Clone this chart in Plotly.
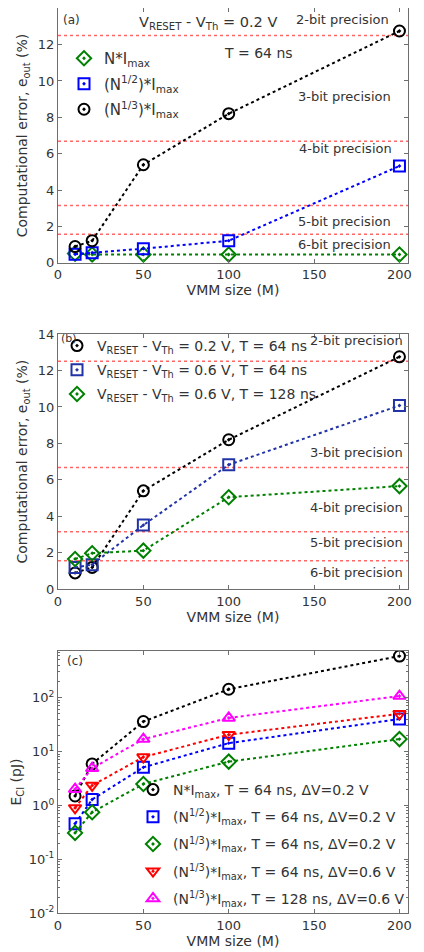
import plotly.graph_objects as go

# ---------------- data ----------------
vmm = [10, 20, 50, 100, 200]

# panel (a): V_RESET - V_Th = 0.2 V, T = 64 ns
a_n = [0.5, 0.45, 0.45, 0.45, 0.45]
a_sqrt = [0.46, 0.55, 0.77, 1.21, 5.32]
a_cbrt = [0.89, 1.21, 5.39, 8.2, 12.75]

# panel (b)
b_02_64 = [0.9, 1.2, 5.4, 8.2, 12.75]
b_06_64 = [1.2, 1.35, 3.52, 6.83, 10.08]
b_06_128 = [1.66, 1.98, 2.12, 5.05, 5.66]

# panel (c): energy (pJ)
c_n = [1.5, 5.9, 36, 143, 590]
c_sqrt = [0.46, 1.29, 5.1, 14.3, 40]
c_cbrt_02 = [0.31, 0.75, 2.5, 6.5, 17]
c_cbrt_06_64 = [0.9, 2.35, 7.9, 20.5, 50]
c_cbrt_06_128 = [2.0, 4.9, 17, 42, 107]

precision_levels = [12.5, 6.68, 3.15, 1.56]

# ---------------- style ----------------
FONT = "DejaVu Sans"
TXT = "#333333"
AX = "#6e6e6e"
GREEN = "#008000"
BLUE = "#0000ff"
NAVY = "#2233a8"
BLACK = "#000000"
RED = "#ff0000"
MAGENTA = "#ff00ff"

fig = go.Figure()
_grp = [0]


def add_series(x, y, color, symbol, name, xa, ya, legend):
    fig.add_trace(go.Scatter(
        x=x, y=y, mode="lines+markers", xaxis=xa, yaxis=ya,
        line=dict(color=color, width=2, dash="dot"),
        marker=dict(symbol=symbol, size=11, color=color,
                    line=dict(color=color, width=2)),
        showlegend=False, hoverinfo="x+y"))
    _grp[0] += 1
    # legend entry (marker only)
    fig.add_trace(go.Scatter(
        x=[None], y=[None], mode="markers", xaxis=xa, yaxis=ya,
        marker=dict(symbol=symbol, size=11, color=color,
                    line=dict(color=color, width=2)),
        name=name, legend=legend, legendgroup=f"g{_grp[0]}", showlegend=True))


# panel a
add_series(vmm, a_n, GREEN, "diamond-open-dot", "N*I<sub>max</sub>", "x", "y", "legend")
add_series(vmm, a_sqrt, BLUE, "square-open-dot", "(N<sup>1/2</sup>)*I<sub>max</sub>", "x", "y", "legend")
add_series(vmm, a_cbrt, BLACK, "circle-open-dot", "(N<sup>1/3</sup>)*I<sub>max</sub>", "x", "y", "legend")

# panel b
add_series(vmm, b_02_64, BLACK, "circle-open-dot",
           "V<sub>RESET</sub> - V<sub>Th</sub> = 0.2 V, T = 64 ns", "x2", "y2", "legend2")
add_series(vmm, b_06_64, NAVY, "square-open-dot",
           "V<sub>RESET</sub> - V<sub>Th</sub> = 0.6 V, T = 64 ns", "x2", "y2", "legend2")
add_series(vmm, b_06_128, GREEN, "diamond-open-dot",
           "V<sub>RESET</sub> - V<sub>Th</sub> = 0.6 V, T = 128 ns", "x2", "y2", "legend2")

# panel c
add_series(vmm, c_n, BLACK, "circle-open-dot",
           "N*I<sub>max</sub>, T = 64 ns, ΔV=0.2 V", "x3", "y3", "legend3")
add_series(vmm, c_sqrt, BLUE, "square-open-dot",
           "(N<sup>1/2</sup>)*I<sub>max</sub>, T = 64 ns, ΔV=0.2 V", "x3", "y3", "legend3")
add_series(vmm, c_cbrt_02, GREEN, "diamond-open-dot",
           "(N<sup>1/3</sup>)*I<sub>max</sub>, T = 64 ns, ΔV=0.2 V", "x3", "y3", "legend3")
add_series(vmm, c_cbrt_06_64, RED, "triangle-down-open-dot",
           "(N<sup>1/3</sup>)*I<sub>max</sub>, T = 64 ns, ΔV=0.6 V", "x3", "y3", "legend3")
add_series(vmm, c_cbrt_06_128, MAGENTA, "triangle-up-open-dot",
           "(N<sup>1/3</sup>)*I<sub>max</sub>, T = 128 ns, ΔV=0.6 V", "x3", "y3", "legend3")

# precision lines
for xa, ya in (("x", "y"), ("x2", "y2")):
    for lv in precision_levels:
        fig.add_shape(type="line", xref=f"{xa} domain", yref=ya,
                      x0=0, x1=1, y0=lv, y1=lv, layer="below",
                      line=dict(color="rgba(255,0,0,0.6)", width=1.5, dash="dot"))

# The page body adds an 8px margin, so the figure is 8px smaller and all
# target pixel positions are shifted by 8px.
OFF = 8
W, H = 424 - OFF, 952 - OFF


def px(x):
    return (x - OFF) / W


def py(y):
    return 1 - (y - OFF) / H


XD = [px(58), px(408)]


def ydom(top, bot):
    return [py(bot), py(top)]


axis_common = dict(showline=True, linecolor=AX, linewidth=1, mirror="ticks",
                   ticks="inside", ticklen=4, tickcolor=AX, showgrid=False,
                   zeroline=False, automargin=False,
                   tickfont=dict(size=13, color=TXT, family=FONT))

xcommon = dict(axis_common, range=[0, 205], tickvals=[0, 50, 100, 150, 200],
               title=dict(text="VMM size (M)", font=dict(size=14, color=TXT, family=FONT), standoff=1))

ytitle_font = dict(size=14, color=TXT, family=FONT)
leg_common = dict(xanchor="left", yanchor="top", bgcolor="rgba(0,0,0,0)",
                  itemwidth=30, traceorder="grouped")

fig.update_layout(
    width=W, height=H, margin=dict(l=0, r=0, t=0, b=0, autoexpand=False),
    paper_bgcolor="white", plot_bgcolor="white",
    font=dict(family=FONT, color=TXT, size=13),
    xaxis=dict(xcommon, domain=XD, anchor="y"),
    yaxis=dict(axis_common, domain=ydom(8.3, 262.7), range=[0, 14], dtick=2, anchor="x",
               title=dict(text="Computational error, e<sub>out</sub> (%)",
                          font=ytitle_font, standoff=6)),
    xaxis2=dict(xcommon, domain=XD, anchor="y2"),
    yaxis2=dict(axis_common, domain=ydom(334, 589.3), range=[0, 14], dtick=2, anchor="x2",
                title=dict(text="Computational error, e<sub>out</sub> (%)",
                           font=ytitle_font, standoff=6)),
    xaxis3=dict(xcommon, domain=XD, anchor="y3"),
    yaxis3=dict(axis_common, type="log", domain=ydom(650.7, 913.3), range=[-2, 2.87], anchor="x3",
                tickvals=[0.01, 0.1, 1, 10, 100],
                ticktext=["10<sup>-2</sup>", "10<sup>-1</sup>", "10<sup>0</sup>",
                          "10<sup>1</sup>", "10<sup>2</sup>"],
                minor=dict(ticks="inside", ticklen=2, tickcolor=AX, dtick="D1"),
                title=dict(text="E<sub>CI</sub> (pJ)", font=ytitle_font, standoff=6)),
    legend=dict(leg_common, x=px(64), y=py(42), tracegroupgap=3,
                font=dict(size=15, color=TXT, family=FONT)),
    legend2=dict(leg_common, x=px(57), y=py(330), tracegroupgap=3,
                 font=dict(size=14, color=TXT, family=FONT)),
    legend3=dict(leg_common, x=px(133), y=py(774), tracegroupgap=6,
                 font=dict(size=14, color=TXT, family=FONT)),
)

ann_font = dict(size=13, color=TXT, family=FONT)


def note(text, x, y, xa, ya, xanchor="right", size=13):
    fig.add_annotation(text=text, x=x, y=y, xref=xa, yref=ya, showarrow=False,
                       xanchor=xanchor, yanchor="middle",
                       font=dict(ann_font, size=size))


# panel a annotations
note("(a)", 2, 13.36, "x", "y", "left", 12)
note("V<sub>RESET</sub> - V<sub>Th</sub> = 0.2 V", 46, 13.2, "x", "y", "left", 14.5)
note("2-bit precision", 195, 13.36, "x", "y")
note("T = 64 ns", 96, 11.54, "x", "y", "left", 14)
note("3-bit precision", 196, 9.12, "x", "y")
note("4-bit precision", 197, 6.31, "x", "y")
note("5-bit precision", 196, 2.26, "x", "y")
note("6-bit precision", 196, 1.01, "x", "y")

# panel b annotations
note("(b)", 0.3, 13.78, "x2", "y2", "left", 11)
note("2-bit precision", 203.5, 13.62, "x2", "y2")
note("3-bit precision", 203.5, 7.49, "x2", "y2")
note("4-bit precision", 203.5, 4.46, "x2", "y2")
note("5-bit precision", 203.5, 2.54, "x2", "y2")
note("6-bit precision", 203.5, 0.91, "x2", "y2")

# panel c annotation (log axis -> log10 position)
note("(c)", 4, 2.68, "x3", "y3", "left", 12)

fig.write_html("out.html")
